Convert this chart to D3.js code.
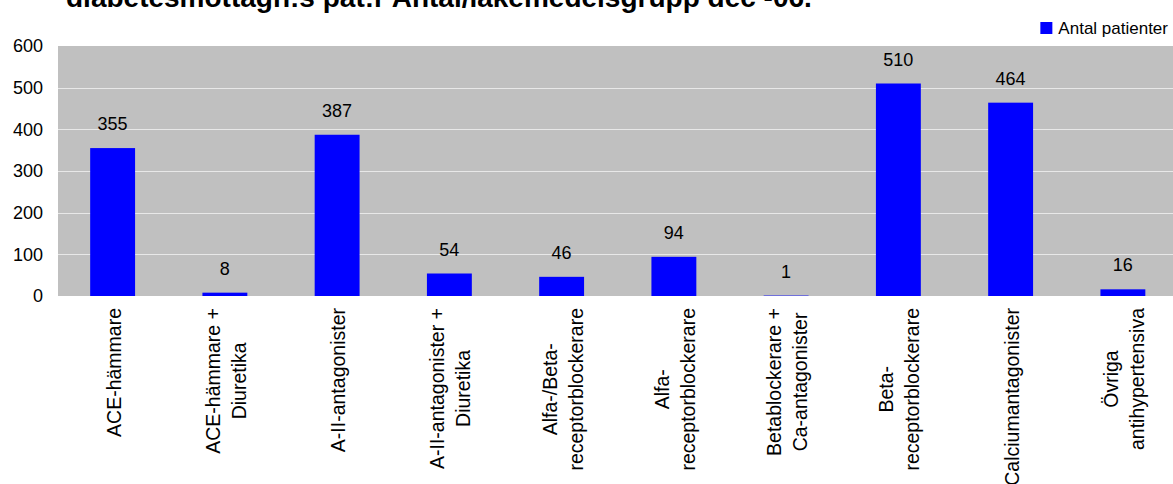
<!DOCTYPE html>
<html>
<head>
<meta charset="utf-8">
<script src="https://cdn.jsdelivr.net/npm/d3@7/dist/d3.min.js"></script>
<style>
  html, body { margin: 0; padding: 0; background: #ffffff; }
  svg { display: block; }
  text { font-family: "Liberation Sans", Arial, sans-serif; fill: #000; }
</style>
</head>
<body>
<svg id="chart" width="1173" height="484"></svg>
<script>
// Drug groups (line breaks mark where a label wraps)
const categories = [
  "ACE-hämmare",
  "ACE-hämmare +\nDiuretika",
  "A-II-antagonister",
  "A-II-antagonister +\nDiuretika",
  "Alfa-/Beta-\nreceptorblockerare",
  "Alfa-\nreceptorblockerare",
  "Betablockerare +\nCa-antagonister",
  "Beta-\nreceptorblockerare",
  "Calciumantagonister",
  "Övriga\nantihypertensiva"
];
// Number of patients per drug group
const values = [355, 8, 387, 54, 46, 94, 1, 510, 464, 16];
const yTicks = [0, 100, 200, 300, 400, 500, 600];
const seriesName = "Antal patienter";
const titleText = "diabetesmottagn:s pat:r Antal/läkemedelsgrupp dec -06.";

const W = 1173, H = 484;
const plot = { left: 58, right: 1181, top: 46, bottom: 296 };

const svg = d3.select("#chart");

const x = d3.scaleBand()
  .domain(d3.range(categories.length))
  .range([56.5, 1179])
  .paddingInner(0.6)
  .paddingOuter(0.3);

const y = d3.scaleLinear()
  .domain([0, 600])
  .range([plot.bottom, plot.top]);

// Title (upper part runs off the top edge)
svg.append("text")
  .attr("x", 66)
  .attr("y", 7)
  .style("font-size", "28px")
  .style("font-weight", "bold")
  .text(titleText);

// Plot background
svg.append("rect")
  .attr("x", plot.left)
  .attr("y", plot.top)
  .attr("width", plot.right - plot.left)
  .attr("height", plot.bottom - plot.top)
  .attr("fill", "#c0c0c0");

// Horizontal gridlines
svg.append("g")
  .selectAll("line")
  .data(yTicks.filter(t => t > 0 && t < 600))
  .join("line")
  .attr("x1", plot.left)
  .attr("x2", plot.right)
  .attr("y1", d => Math.round(y(d)) + 0.5)
  .attr("y2", d => Math.round(y(d)) + 0.5)
  .attr("stroke", "#e8e8e8")
  .attr("stroke-width", 1);

// Y axis labels
const yAxis = d3.axisLeft(y).tickValues(yTicks).tickSize(0).tickPadding(0);
const yg = svg.append("g")
  .attr("transform", `translate(43,0)`)
  .call(yAxis);
yg.select(".domain").remove();
yg.selectAll("text")
  .style("font-size", "18px")
  .style("font-family", "'Liberation Sans', Arial, sans-serif")
  .attr("fill", "#000");

// Bars
svg.append("g")
  .selectAll("rect")
  .data(values)
  .join("rect")
  .attr("x", (d, i) => x(i))
  .attr("width", x.bandwidth())
  .attr("y", d => y(d))
  .attr("height", d => y(0) - y(d))
  .attr("fill", "#0000ff");

// Value labels
svg.append("g")
  .selectAll("text")
  .data(values)
  .join("text")
  .attr("x", (d, i) => x(i) + x.bandwidth() / 2)
  .attr("y", d => y(d) - 18)
  .attr("text-anchor", "middle")
  .style("font-size", "18px")
  .text(d => d);

// Category labels, rotated, lines centred inside a block aligned to the axis
const labelTop = 308;
const lineGap = 26;
const catG = svg.append("g");
categories.forEach((cat, i) => {
  const lines = cat.split("\n");
  const cx = x(i) + x.bandwidth() / 2;
  const g = catG.append("g");
  const texts = lines.map((ln, j) => {
    const dx = lines.length === 1 ? 8 : (j === 0 ? -5 : -5 + lineGap);
    return g.append("text")
      .style("font-size", "19.5px")
      .attr("text-anchor", "middle")
      .attr("data-dx", dx)
      .text(ln);
  });
  const maxLen = d3.max(texts, t => t.node().getComputedTextLength());
  const cy = labelTop + maxLen / 2;
  texts.forEach(t => {
    const dx = +t.attr("data-dx");
    t.attr("transform", `translate(${cx + dx},${cy}) rotate(-90)`);
    t.attr("data-dx", null);
  });
});

// Legend
const legText = svg.append("text")
  .attr("x", 1168)
  .attr("y", 34)
  .attr("text-anchor", "end")
  .style("font-size", "17px")
  .text(seriesName);
const lw = legText.node().getComputedTextLength();
svg.append("rect")
  .attr("x", 1168 - lw - 18)
  .attr("y", 22)
  .attr("width", 12)
  .attr("height", 12)
  .attr("fill", "#0000ff");
</script>
</body>
</html>
